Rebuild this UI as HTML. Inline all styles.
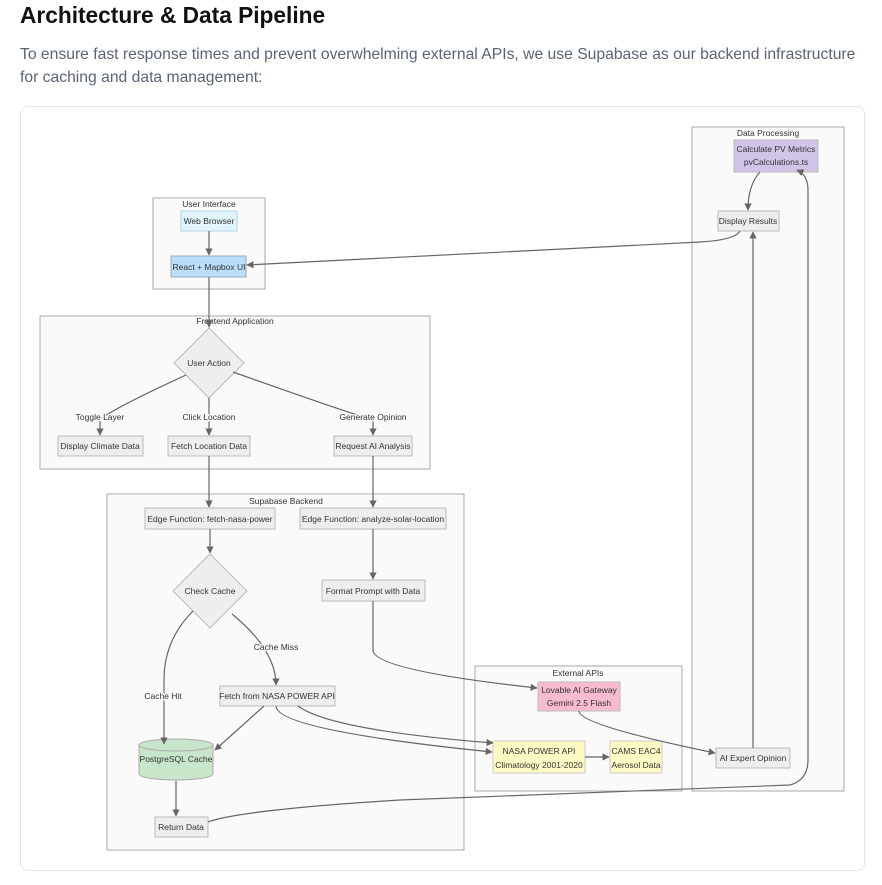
<!DOCTYPE html>
<html><head><meta charset="utf-8"><style>
body{margin:0;background:#fff;width:882px;height:885px;overflow:hidden;font-family:"Liberation Sans",sans-serif}
h2{position:absolute;left:20px;top:2px;margin:0;font-size:22.7px;font-weight:bold;color:#111}
p{position:absolute;left:20px;top:43px;margin:0;width:862px;white-space:nowrap;font-size:15.7px;line-height:23px;color:#5a6475}
.card{position:absolute;left:20px;top:106px;width:843px;height:763px;border:1px solid #e3e6ea;border-radius:8px}
svg{position:absolute;left:0;top:0}
svg text{font-family:"Liberation Sans",sans-serif;font-size:8.5px;fill:#333;text-anchor:middle}
.cl{fill:#fafafa;stroke:#aaa;stroke-width:1}
.n{fill:#eee;stroke:#bbb;stroke-width:1}
.e{fill:none;stroke:#666;stroke-width:1.2;marker-end:url(#a)}
</style></head><body>
<h2>Architecture &amp; Data Pipeline</h2>
<p>To ensure fast response times and prevent overwhelming external APIs, we use Supabase as our backend infrastructure<br>for caching and data management:</p>
<div class="card"></div>
<svg width="882" height="885">
<defs><marker id="a" viewBox="0 0 10 10" refX="9" refY="5" markerWidth="6" markerHeight="6" orient="auto"><path d="M0,0L10,5L0,10z" fill="#666"/></marker></defs>
<rect class="cl" x="153" y="198" width="112" height="91"/><text x="209" y="207">User Interface</text>
<rect class="cl" x="40" y="316" width="390" height="153"/><text x="235" y="324">Frontend Application</text>
<rect class="cl" x="107" y="494" width="357" height="356"/><text x="286" y="504">Supabase Backend</text>
<rect class="cl" x="475" y="666" width="207" height="125"/><text x="578" y="676">External APIs</text>
<rect class="cl" x="692" y="127" width="152" height="664"/><text x="768" y="136">Data Processing</text>

<rect x="181" y="211" width="56" height="20" fill="#e1f5fe" stroke="#b3d4e6"/><text x="209" y="224">Web Browser</text>
<rect x="171" y="256" width="75" height="21" fill="#bbdefb" stroke="#9ab"/><text x="209" y="270">React + Mapbox UI</text>
<polygon class="n" points="209,328 244,363 209,398 174,363"/><text x="209" y="366">User Action</text>
<rect class="n" x="58" y="436" width="85" height="20"/><text x="100" y="449">Display Climate Data</text>
<rect class="n" x="168" y="436" width="82" height="20"/><text x="209" y="449">Fetch Location Data</text>
<rect class="n" x="334" y="436" width="78" height="20"/><text x="373" y="449">Request AI Analysis</text>
<rect class="n" x="145" y="508" width="130" height="21"/><text x="210" y="522">Edge Function: fetch-nasa-power</text>
<rect class="n" x="300" y="508" width="146" height="21"/><text x="373" y="522">Edge Function: analyze-solar-location</text>
<polygon class="n" points="210,554 247,591 210,628 173,591"/><text x="210" y="594">Check Cache</text>
<rect class="n" x="322" y="580" width="103" height="21"/><text x="373" y="594">Format Prompt with Data</text>
<rect class="n" x="220" y="686" width="115" height="20"/><text x="277" y="699">Fetch from NASA POWER API</text>
<path d="M139,745 L139,774 A37,6 0 0 0 213,774 L213,745" fill="#c8e6c9" stroke="#aaa"/><ellipse cx="176" cy="745" rx="37" ry="6" fill="#c8e6c9" stroke="#aaa"/><text x="176" y="762">PostgreSQL Cache</text>
<rect class="n" x="155" y="817" width="53" height="20"/><text x="181" y="830">Return Data</text>
<rect x="538" y="682" width="82" height="29" fill="#f8bbd0" stroke="#bbb"/><text x="579" y="693">Lovable AI Gateway</text><text x="579" y="706">Gemini 2.5 Flash</text>
<rect x="493" y="741" width="92" height="32" fill="#fff9c4" stroke="#ccc"/><text x="539" y="754">NASA POWER API</text><text x="539" y="768">Climatology 2001-2020</text>
<rect x="610" y="741" width="52" height="32" fill="#fff9c4" stroke="#ccc"/><text x="636" y="754">CAMS EAC4</text><text x="636" y="768">Aerosol Data</text>
<rect x="734" y="140" width="84" height="32" fill="#d1c4e9" stroke="#bbb"/><text x="776" y="152">Calculate PV Metrics</text><text x="776" y="165">pvCalculations.ts</text>
<rect class="n" x="718" y="211" width="61" height="20"/><text x="748" y="224">Display Results</text>
<rect class="n" x="716" y="748" width="74" height="20"/><text x="753" y="761">AI Expert Opinion</text>

<path class="e" d="M209,231 V255"/>
<path class="e" d="M209,277 V327"/>
<path class="e" d="M186,375 Q110,410 100,420 V435"/>
<path class="e" d="M209,398 V435"/>
<path class="e" d="M233,372 Q340,410 373,420 V435"/>
<path class="e" d="M209,456 V507"/>
<path class="e" d="M373,456 V507"/>
<path class="e" d="M210,529 V553"/>
<path class="e" d="M373,529 V579"/>
<path class="e" d="M193,611 Q164,640 164,680 V744"/>
<path class="e" d="M232,614 Q276,650 276,685"/>
<path class="e" d="M264,706 L215,750"/>
<path class="e" d="M276,706 Q276,730 492,752"/>
<path class="e" d="M298,706 Q330,730 493,743 "/>
<path class="e" d="M585,757 L609,757"/>
<path class="e" d="M373,601 V650 Q373,670 537,688"/>
<path class="e" d="M579,711 Q579,725 715,753"/>
<path class="e" d="M753,748 V232"/>
<path class="e" d="M176,781 V816"/>
<path class="e" d="M208,822 Q240,810 400,800 L790,785 Q808,780 808,760 V190 Q808,175 797,170"/>
<path class="e" d="M760,172 Q748,185 748,210"/>
<path class="e" d="M740,231 Q735,240 700,242 L247,265"/>
<text x="100" y="420" style="paint-order:stroke;stroke:#fafafa;stroke-width:3">Toggle Layer</text>
<text x="209" y="420" style="paint-order:stroke;stroke:#fafafa;stroke-width:3">Click Location</text>
<text x="373" y="420" style="paint-order:stroke;stroke:#fafafa;stroke-width:3">Generate Opinion</text>
<text x="276" y="650" style="paint-order:stroke;stroke:#fafafa;stroke-width:3">Cache Miss</text>
<text x="163" y="699" style="paint-order:stroke;stroke:#fafafa;stroke-width:3">Cache Hit</text>
</svg>
</body></html>
